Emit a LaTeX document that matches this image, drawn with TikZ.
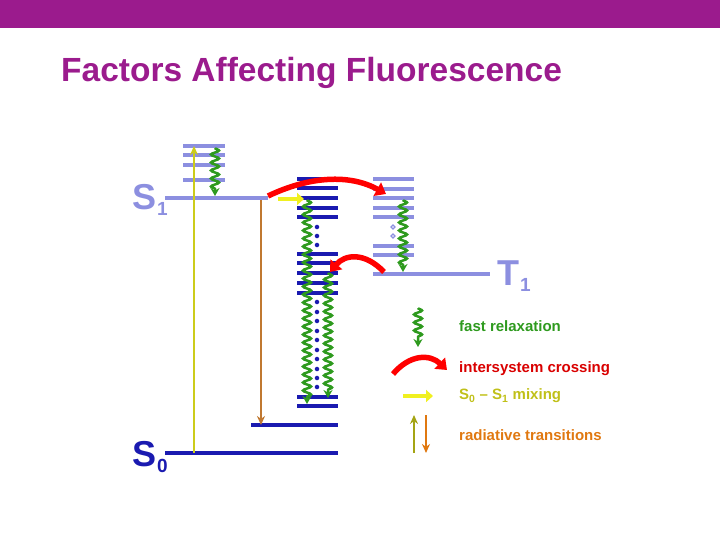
\documentclass[tikz,border=0pt]{standalone}
\usepackage{fontspec}
\setmainfont{Liberation Sans}
\usetikzlibrary{decorations.pathmorphing,arrows.meta}
\definecolor{purp}{HTML}{9B1B8D}
\definecolor{lb}{HTML}{8C8FE0}
\definecolor{db}{HTML}{1A1AB0}
\definecolor{grn}{HTML}{2E9A1E}
\definecolor{brn}{HTML}{C07830}
\definecolor{ylw}{HTML}{F0F020}
\definecolor{org}{HTML}{E07810}
\newcommand{\lvlab}[2]{#1\kern1pt\raisebox{-0.35ex}{\fontsize{19}{19}\selectfont #2}}
\begin{document}
\begin{tikzpicture}[x=1pt,y=-1pt,
  lvl/.style={line width=4.5pt},
  lvll/.style={lvl,lb},
  lvld/.style={lvl,db},
  wig/.style={grn,line width=2.5pt,-{Stealth[length=8pt,width=9pt]},decorate,decoration={snake,amplitude=4pt,segment length=8pt,post length=7pt}},
  isc/.style={red,line width=5.5pt,-{Triangle[length=10pt,width=15pt]}},
  mix/.style={ylw,line width=4.5pt,-{Triangle[length=7pt,width=12pt]}},
  rad/.style={line width=2.2pt,-{Stealth[length=9pt,width=8pt]}},
  dot/.style={circle,fill=db,inner sep=1.6pt},
  ldot/.style={circle,draw=lb,fill=white,inner sep=1.4pt,line width=1.2pt},
  lab/.style={font=\bfseries\fontsize{15}{17}\selectfont,anchor=west,inner sep=0pt},
  big/.style={font=\bfseries\fontsize{36}{36}\selectfont}]
\useasboundingbox (0,0) rectangle (720,540);
\fill[purp] (0,0) rectangle (720,28);
\node[purp,font=\bfseries\fontsize{33.5}{36}\selectfont,anchor=west,inner sep=0pt] (title) at (61,73) {Factors Affecting Fluorescence};
% S1 manifold
\foreach \y in {146,155,165,180} \draw[lvll] (183,\y) -- (225,\y);
\draw[lvll] (165,198) -- (268,198);
\node[lb,big] (s1) at (150,200) {\lvlab{S}{1}};
% S0
\draw[lvld] (165,453) -- (338,453);
\draw[lvld] (251,425) -- (338,425);
\node[db,big] (s0) at (150,457) {\lvlab{S}{0}};
% dark stack
\foreach \y in {179,188,198,208,217,254,263,273,283,293,397,406} \draw[lvld] (297,\y) -- (338,\y);
\foreach \y in {227,236,245} \node[dot] at (317,\y) {};
\foreach \y in {302,312,321,331,340,350,359,369,378,387} \node[dot] at (317,\y) {};
% T1 stack
\foreach \y in {179,189,198,208,217,246,255} \draw[lvll] (373,\y) -- (414,\y);
\foreach \y in {227,236} \node[ldot] at (393,\y) {};
\draw[lvll] (373,274) -- (490,274);
\node[lb,big] (t1) at (514,276) {\lvlab{T}{1}};
% transitions
\coordinate (ya) at (194,453); \coordinate (yb) at (194,146);
\draw[rad,ylw!85!black] (ya) -- (yb);
\coordinate (ba) at (261,200); \coordinate (bb) at (261,425);
\draw[rad,brn] (ba) -- (bb);
\coordinate (w1a) at (215,148); \coordinate (w1b) at (215,196);
\draw[wig] (w1a) -- (w1b);
\coordinate (w2a) at (307,200); \coordinate (w2b) at (307,404);
\draw[wig] (w2a) -- (w2b);
\coordinate (w3a) at (328,273); \coordinate (w3b) at (328,398);
\draw[wig] (w3a) -- (w3b);
\coordinate (w4a) at (403,200); \coordinate (w4b) at (403,272);
\draw[wig] (w4a) -- (w4b);
\coordinate (ma) at (278,199); \coordinate (mb) at (304,199);
\draw[mix] (ma) -- (mb);
\coordinate (ia) at (268,196); \coordinate (ib) at (386,194);
\draw[isc] (ia) .. controls (310,176) and (350,174) .. (ib);
\coordinate (ja) at (384,272); \coordinate (jb) at (330,272);
\draw[isc] (ja) .. controls (365,252) and (345,254) .. (jb);
% legend
\coordinate (lwa) at (418,308); \coordinate (lwb) at (418,347);
\draw[wig] (lwa) -- (lwb);
\node[lab,grn] (l1) at (459,326) {fast relaxation};
\coordinate (lia) at (393,374); \coordinate (lib) at (447,370);
\draw[isc] (lia) .. controls (410,354) and (430,354) .. (lib);
\node[lab,red!85!black] (l2) at (459,369) {intersystem crossing};
\coordinate (lma) at (403,396); \coordinate (lmb) at (433,396);
\draw[mix] (lma) -- (lmb);
\node[lab,ylw!80!black] (l3) at (459,396) {S\textsubscript{0} – S\textsubscript{1} mixing};
\coordinate (lya) at (414,453); \coordinate (lyb) at (414,415);
\draw[rad,ylw!70!black!90!olive] (lya) -- (lyb);
\coordinate (lba) at (426,415); \coordinate (lbb) at (426,453);
\draw[rad,org] (lba) -- (lbb);
\node[lab,org] (l4) at (459,435) {radiative transitions};
\end{tikzpicture}
\end{document}
